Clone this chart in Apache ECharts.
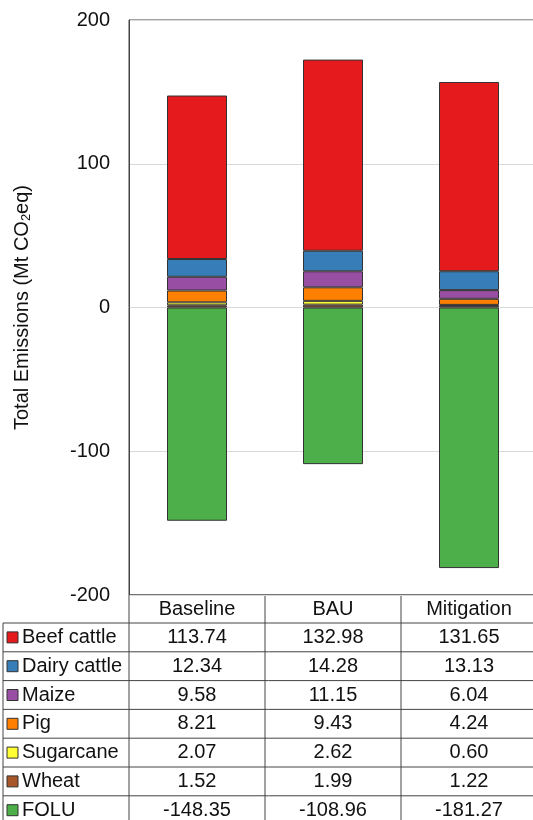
<!DOCTYPE html>
<html>
<head>
<meta charset="utf-8">
<script src="https://cdn.jsdelivr.net/npm/echarts@6/dist/echarts.min.js"></script>
<style>
  html, body { margin: 0; padding: 0; background: #fff; }
  #chart { width: 533px; height: 820px; }
</style>
</head>
<body>
<div id="chart"></div>
<script>
// scenarios and emission values (Mt CO2eq)
const scenarios = ['Baseline', 'BAU', 'Mitigation'];
const seriesNames = ['Beef cattle', 'Dairy cattle', 'Maize', 'Pig', 'Sugarcane', 'Wheat', 'FOLU'];
const beefCattle = [113.74, 132.98, 131.65];
const dairyCattle = [12.34, 14.28, 13.13];
const maize = [9.58, 11.15, 6.04];
const pig = [8.21, 9.43, 4.24];
const sugarcane = [2.07, 2.62, 0.60];
const wheat = [1.52, 1.99, 1.22];
const folu = [-148.35, -108.96, -181.27];
const yTicks = [-200, -100, 0, 100, 200];

const colors = {
  'Beef cattle': '#e41a1c',
  'Dairy cattle': '#377eb8',
  'Maize': '#984ea3',
  'Pig': '#ff7f00',
  'Sugarcane': '#ffff33',
  'Wheat': '#a65628',
  'FOLU': '#4daf4a',
};
const values = {
  'Beef cattle': beefCattle,
  'Dairy cattle': dairyCattle,
  'Maize': maize,
  'Pig': pig,
  'Sugarcane': sugarcane,
  'Wheat': wheat,
  'FOLU': folu,
};

// stack order from the zero line upwards
const stackOrder = ['Wheat', 'Sugarcane', 'Pig', 'Maize', 'Dairy cattle', 'Beef cattle', 'FOLU'];

const FONT = 'Liberation Sans, Arial, sans-serif';
const gridLeft = 129, gridTop = 20, colW = 136, plotH = 575;
const tableTop = gridTop + plotH;      // 595
const headH = 28, rowH = 28.8;
const lineColor = '#444';

const series = stackOrder.map((name) => ({
  name,
  type: 'bar',
  stack: 'total',
  barWidth: 60,
  itemStyle: { color: colors[name], borderColor: '#333', borderWidth: 1 },
  emphasis: { disabled: true },
  data: values[name],
}));

// data table drawn under the plot
const graphic = [];
const tableRight = gridLeft + colW * scenarios.length;
const tableBottom = tableTop + headH + rowH * seriesNames.length;

// header row
scenarios.forEach((s, i) => {
  graphic.push({
    type: 'text',
    x: gridLeft + colW * i + colW / 2,
    y: tableTop + headH / 2,
    style: { text: s, font: '20px ' + FONT, fill: '#111', align: 'center', verticalAlign: 'middle' },
  });
});
// vertical lines
for (let i = 0; i <= scenarios.length; i++) {
  const x = gridLeft + colW * i;
  graphic.push({ type: 'line', shape: { x1: x, y1: tableTop, x2: x, y2: tableBottom }, style: { stroke: lineColor, lineWidth: 1 } });
}
graphic.push({ type: 'line', shape: { x1: 3, y1: tableTop + headH, x2: 3, y2: tableBottom }, style: { stroke: lineColor, lineWidth: 1 } });
// horizontal lines
graphic.push({ type: 'line', shape: { x1: gridLeft, y1: tableTop, x2: tableRight, y2: tableTop }, style: { stroke: lineColor, lineWidth: 1 } });
for (let r = 0; r <= seriesNames.length; r++) {
  const y = tableTop + headH + rowH * r;
  graphic.push({ type: 'line', shape: { x1: 3, y1: y, x2: tableRight, y2: y }, style: { stroke: lineColor, lineWidth: 1 } });
}
// rows
seriesNames.forEach((name, r) => {
  const cy = tableTop + headH + rowH * r + rowH / 2;
  graphic.push({
    type: 'rect',
    shape: { x: 7, y: cy - 5.5, width: 11, height: 11 },
    style: { fill: colors[name], stroke: '#333', lineWidth: 1 },
  });
  graphic.push({
    type: 'text',
    x: 22,
    y: cy,
    style: { text: name, font: '20px ' + FONT, fill: '#111', align: 'left', verticalAlign: 'middle' },
  });
  values[name].forEach((v, i) => {
    graphic.push({
      type: 'text',
      x: gridLeft + colW * i + colW / 2,
      y: cy,
      style: { text: v.toFixed(2), font: '20px ' + FONT, fill: '#111', align: 'center', verticalAlign: 'middle' },
    });
  });
});

const chart = echarts.init(document.getElementById('chart'));
chart.setOption({
  animation: false,
  backgroundColor: '#fff',
  grid: {
    left: gridLeft,
    top: gridTop,
    width: colW * scenarios.length,
    height: plotH,
    show: true,
    borderColor: lineColor,
    borderWidth: 1,
    containLabel: false,
    outerBoundsMode: 'none',
  },
  xAxis: {
    type: 'category',
    data: scenarios,
    axisLine: { show: false },
    axisTick: { show: false },
    axisLabel: { show: false },
  },
  yAxis: {
    type: 'value',
    min: yTicks[0],
    max: yTicks[yTicks.length - 1],
    interval: 100,
    name: 'Total Emissions (Mt CO{sub|2}eq)',
    nameLocation: 'middle',
    nameRotate: 90,
    nameGap: 96,
    nameTextStyle: {
      fontFamily: FONT,
      fontSize: 20,
      color: '#111',
      rich: { sub: { fontFamily: FONT, fontSize: 13, color: '#111', verticalAlign: 'bottom', padding: [9, 0, 0, 0] } },
    },
    axisLine: { show: true, lineStyle: { color: lineColor } },
    axisTick: { show: false },
    axisLabel: { fontFamily: FONT, fontSize: 20, color: '#111', margin: 19 },
    splitLine: { show: true, lineStyle: { color: '#d9d9d9', width: 1 } },
  },
  series,
  graphic,
});
</script>
</body>
</html>
